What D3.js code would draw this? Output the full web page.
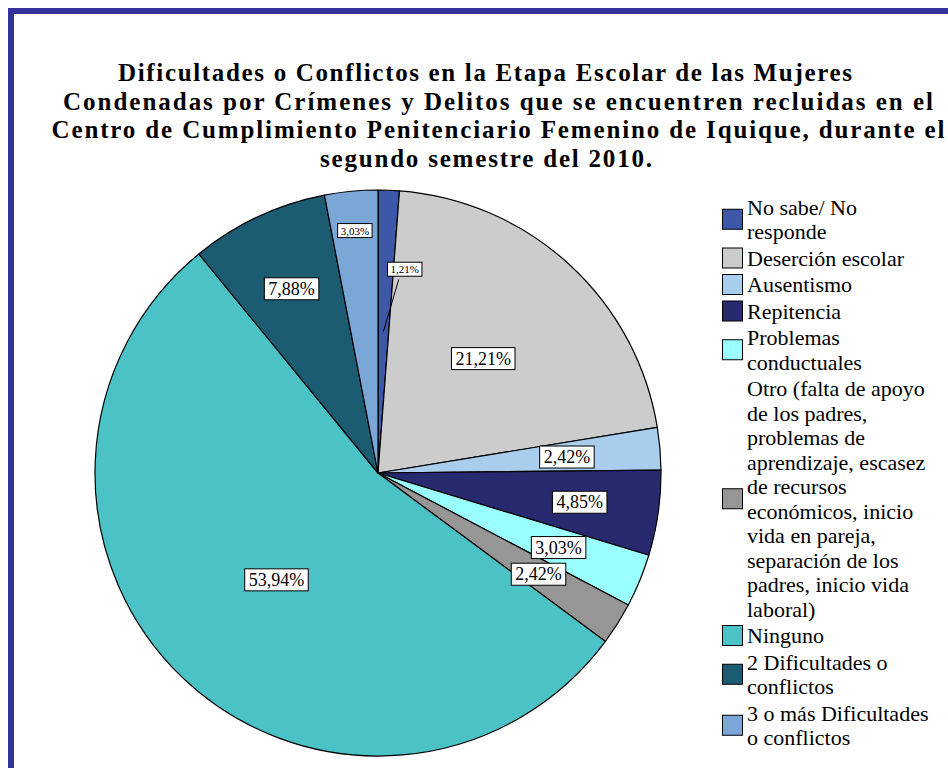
<!DOCTYPE html>
<html>
<head>
<meta charset="utf-8">
<script src="https://cdn.jsdelivr.net/npm/d3@7"></script>
<style>
  html, body { margin: 0; padding: 0; background: #fff; }
  svg { display: block; }
</style>
</head>
<body>
<div id="app"></div>
<script>
const categories = [
  "No sabe/ No responde",
  "Deserción escolar",
  "Ausentismo",
  "Repitencia",
  "Problemas conductuales",
  "Otro (falta de apoyo de los padres, problemas de aprendizaje, escasez de recursos económicos, inicio vida en pareja, separación de los padres, inicio vida laboral)",
  "Ninguno",
  "2 Dificultades o conflictos",
  "3 o más Dificultades o conflictos",
];
const values = [1.21, 21.21, 2.42, 4.85, 3.03, 2.42, 53.94, 7.88, 3.03];
const valueLabels = ["1,21%", "21,21%", "2,42%", "4,85%", "3,03%", "2,42%", "53,94%", "7,88%", "3,03%"];

// legend text as wrapped in the original
const legendLines = [
  ["No sabe/ No", "responde"],
  ["Deserción escolar"],
  ["Ausentismo"],
  ["Repitencia"],
  ["Problemas", "conductuales"],
  ["Otro (falta de apoyo", "de los padres,", "problemas de", "aprendizaje, escasez", "de recursos", "económicos, inicio", "vida en pareja,", "separación de los", "padres, inicio vida", "laboral)"],
  ["Ninguno"],
  ["2 Dificultades o", "conflictos"],
  ["3 o más Dificultades", "o conflictos"],
];

const titleLines = [
  "Dificultades o Conflictos en la Etapa Escolar de las Mujeres",
  "Condenadas por Crímenes y Delitos que se encuentren recluidas en el",
  "Centro de Cumplimiento Penitenciario Femenino de Iquique, durante el",
  "segundo semestre del 2010.",
];

const colors = ["#3d57a9", "#cccccc", "#a9cdec", "#282a6f", "#99ffff", "#969696", "#4bc3c6", "#1c5c72", "#7ba7d7"];

// label placement (fraction of radius) and small-label flag
const labelRadius = [0.72, 0.55, 0.67, 0.72, 0.69, 0.67, 0.52, 0.72, 0.86];
const smallLabel = [true, false, false, false, false, false, false, false, true];

const width = 948;
const height = 768;
const serif = "Liberation Serif, Times New Roman, Times, DejaVu Serif, serif";

const svg = d3
  .select("#app")
  .append("svg")
  .attr("width", width)
  .attr("height", height)
  .attr("viewBox", [0, 0, width, height]);

// frame (only top and left edges visible)
svg
  .append("path")
  .attr("d", `M11,${height} V11 H${width}`)
  .attr("fill", "none")
  .attr("stroke", "#333399")
  .attr("stroke-width", 6);

// title
const title = svg
  .append("text")
  .style("font-family", serif)
  .attr("font-weight", "bold")
  .attr("font-size", 25)
  .attr("text-anchor", "middle");
const titleWidths = [734, 870, 893, 332];
const titleCx = [485, 498, 498, 486];
titleLines.forEach((t, i) => {
  title
    .append("tspan")
    .attr("x", titleCx[i])
    .attr("y", 81 + i * 28.5)
    .attr("textLength", titleWidths[i])
    .attr("lengthAdjust", "spacing")
    .text(t);
});

// pie
const cx = 378, cy = 473, r = 283;
const pie = d3.pie().sort(null).value((d) => d)(values);
const arc = d3.arc().innerRadius(0).outerRadius(r);

const g = svg.append("g").attr("transform", `translate(${cx},${cy})`);

g.selectAll("path")
  .data(pie)
  .join("path")
  .attr("d", arc)
  .attr("fill", (d, i) => colors[i])
  .attr("stroke", "#000")
  .attr("stroke-width", 1.2)
  .attr("stroke-linejoin", "round");

// labels
const labels = g
  .selectAll("g.lbl")
  .data(pie)
  .join("g")
  .attr("class", "lbl")
  .attr("transform", (d, i) => {
    const a = (d.startAngle + d.endAngle) / 2;
    const rr = labelRadius[i] * r;
    let x = Math.sin(a) * rr;
    let y = -Math.cos(a) * rr;
    if (i === 0) x += 19; // pulled out of the thin slice
    return `translate(${x},${y})`;
  });

// leader for the thin first slice
{
  const d = pie[0];
  const a = (d.startAngle + d.endAngle) / 2;
  const rr = labelRadius[0] * r;
  g.append("line")
    .attr("x1", Math.sin(a) * rr + 13)
    .attr("y1", -Math.cos(a) * rr + 10)
    .attr("x2", Math.sin(a) * r * 0.5)
    .attr("y2", -Math.cos(a) * r * 0.5)
    .attr("stroke", "#000")
    .attr("stroke-width", 1);
}

labels.each(function (d, i) {
  const sel = d3.select(this);
  const fs = smallLabel[i] ? 11 : 18;
  const t = sel
    .append("text")
    .style("font-family", serif)
    .attr("font-size", fs)
    .attr("text-anchor", "middle")
    .attr("dy", "0.35em")
    .text(valueLabels[i]);
  const bb = t.node().getBBox();
  const px = smallLabel[i] ? 3 : 4;
  sel
    .insert("rect", "text")
    .attr("x", bb.x - px)
    .attr("y", bb.y - 1)
    .attr("width", bb.width + px * 2)
    .attr("height", bb.height + 2)
    .attr("fill", "#fff")
    .attr("stroke", "#000")
    .attr("stroke-width", 1);
});

// legend
const legend = svg.append("g").attr("transform", "translate(722,0)");
const lineH = 24.5;
const legendTops = [];
let y = 207;
legendLines.forEach((lines) => {
  legendTops.push(y);
  y += lines.length * lineH + 2;
});

legendLines.forEach((lines, i) => {
  const top = legendTops[i];
  const mid = top + ((lines.length - 1) * lineH) / 2;
  const item = legend.append("g");
  item
    .append("rect")
    .attr("x", 0.5)
    .attr("y", mid - 10)
    .attr("width", 20)
    .attr("height", 20)
    .attr("fill", colors[i])
    .attr("stroke", "#000")
    .attr("stroke-width", 1);
  const t = item
    .append("text")
    .style("font-family", serif)
    .attr("font-size", 22)
    .attr("fill", "#000");
  lines.forEach((ln, j) => {
    t.append("tspan")
      .attr("x", 25)
      .attr("y", top + j * lineH)
      .attr("dy", "0.35em")
      .text(ln);
  });
});
</script>
</body>
</html>
